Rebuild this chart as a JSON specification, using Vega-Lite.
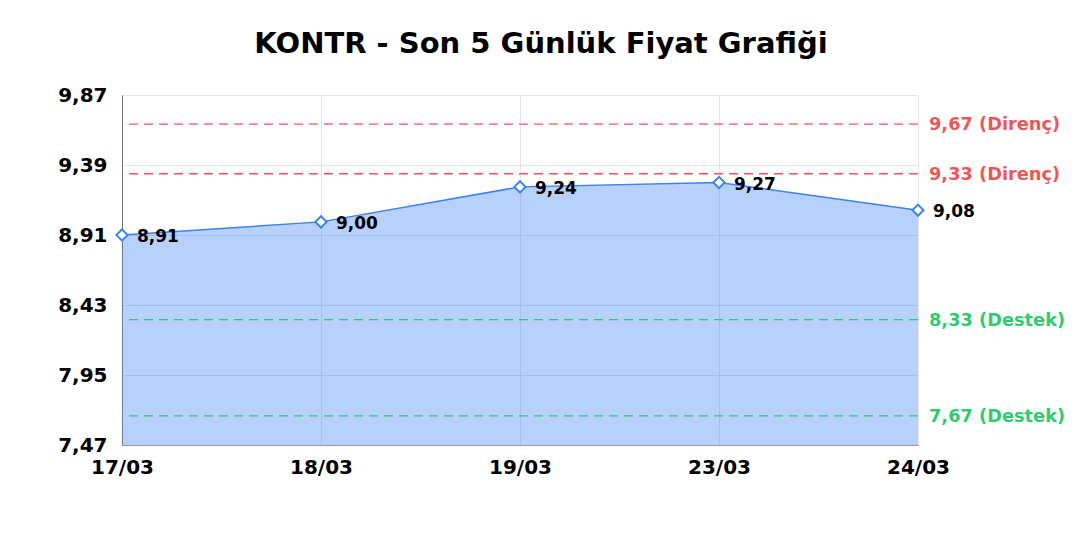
{
  "$schema": "https://vega.github.io/schema/vega-lite/v6.json",
  "width": 796,
  "height": 350,
  "autosize": "none",
  "padding": {"left": 122, "top": 95, "right": 162, "bottom": 95},
  "background": "white",
  "title": {
    "text": "KONTR - Son 5 Günlük Fiyat Grafiği",
    "font": "DejaVu Sans",
    "fontSize": 29,
    "fontWeight": "bold",
    "color": "black",
    "anchor": "middle",
    "dx": 21,
    "offset": 26
  },
  "config": {
    "locale": {
      "number": {"decimal": ",", "thousands": ".", "grouping": [3], "currency": ["", " TL"]}
    },
    "view": {"stroke": "#e2e2e2"},
    "axis": {
      "labelFont": "DejaVu Sans",
      "labelFontWeight": "bold",
      "labelColor": "black",
      "ticks": false,
      "gridColor": "#e4e4e4",
      "title": null
    }
  },
  "datasets": {
    "prices": [
      {"date": "17/03", "price": 8.91},
      {"date": "18/03", "price": 9.00},
      {"date": "19/03", "price": 9.24},
      {"date": "23/03", "price": 9.27},
      {"date": "24/03", "price": 9.08}
    ],
    "levels": [
      {"level": 9.67, "kind": "Direnç", "label": "9,67 (Direnç)"},
      {"level": 9.33, "kind": "Direnç", "label": "9,33 (Direnç)"},
      {"level": 8.33, "kind": "Destek", "label": "8,33 (Destek)"},
      {"level": 7.67, "kind": "Destek", "label": "7,67 (Destek)"}
    ]
  },
  "layer": [
    {
      "data": {"name": "prices"},
      "mark": {"type": "area", "color": "#3b82f6", "opacity": 0.37},
      "encoding": {
        "x": {
          "field": "date",
          "type": "ordinal",
          "sort": null,
          "scale": {"type": "point", "padding": 0},
          "axis": {
            "labelAngle": 0,
            "labelFontSize": 20,
            "labelPadding": 12,
            "domainColor": "#999999",
            "grid": true
          }
        },
        "y": {
          "field": "price",
          "type": "quantitative",
          "scale": {"domain": [7.47, 9.87], "nice": false, "zero": false},
          "axis": {
            "values": [7.47, 7.95, 8.43, 8.91, 9.39, 9.87],
            "format": ".2f",
            "labelFontSize": 20,
            "labelPadding": 15,
            "domainColor": "#777777",
            "grid": true
          }
        },
        "y2": {"datum": 7.47}
      }
    },
    {
      "data": {"name": "levels"},
      "mark": {"type": "rule", "strokeDash": [9, 6], "strokeWidth": 1.3},
      "encoding": {
        "y": {"field": "level", "type": "quantitative"},
        "color": {
          "field": "kind",
          "type": "nominal",
          "scale": {"domain": ["Direnç", "Destek"], "range": ["#f05656", "#2ecc71"]},
          "legend": null
        }
      }
    },
    {
      "data": {"name": "levels"},
      "mark": {"type": "text", "align": "left", "baseline": "middle", "dx": 11, "dy": 1, "font": "DejaVu Sans", "fontWeight": "bold", "fontSize": 17.8},
      "encoding": {
        "x": {"datum": "24/03"},
        "y": {"field": "level", "type": "quantitative"},
        "text": {"field": "label"},
        "color": {"field": "kind", "type": "nominal", "legend": null}
      }
    },
    {
      "data": {"name": "prices"},
      "mark": {"type": "line", "color": "#3b82f6", "strokeWidth": 1.5},
      "encoding": {
        "x": {"field": "date", "type": "ordinal", "sort": null},
        "y": {"field": "price", "type": "quantitative"}
      }
    },
    {
      "data": {"name": "prices"},
      "mark": {"type": "point", "shape": "diamond", "filled": true, "fill": "white", "stroke": "#3b82f6", "strokeWidth": 2, "size": 125, "opacity": 1},
      "encoding": {
        "x": {"field": "date", "type": "ordinal", "sort": null},
        "y": {"field": "price", "type": "quantitative"}
      }
    },
    {
      "data": {"name": "prices"},
      "mark": {"type": "text", "align": "left", "baseline": "middle", "dx": 15, "dy": 2, "font": "DejaVu Sans", "fontWeight": "bold", "fontSize": 17, "color": "black"},
      "encoding": {
        "x": {"field": "date", "type": "ordinal", "sort": null},
        "y": {"field": "price", "type": "quantitative"},
        "text": {"field": "price", "type": "quantitative", "format": ".2f"}
      }
    }
  ]
}
